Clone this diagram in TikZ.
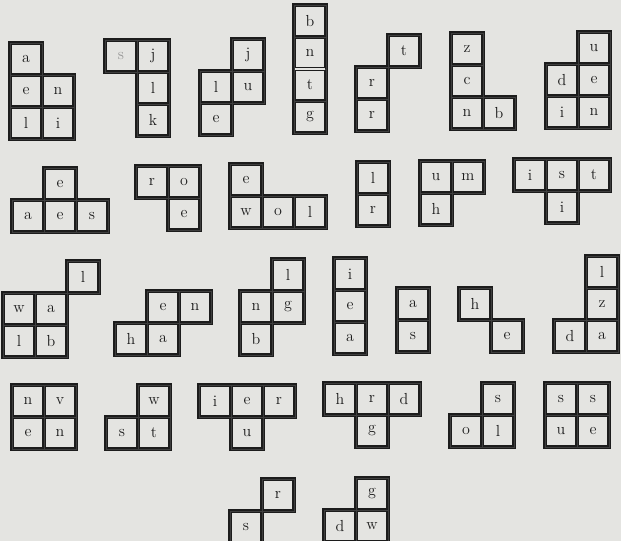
\documentclass[tikz,border=0pt]{standalone}
\definecolor{paper}{HTML}{E4E4E1}
\definecolor{ink}{HTML}{1C1C1C}
\tikzset{
  outerline/.style={draw=ink, line width=3pt},
  paperfill/.style={fill=paper},
  cellbox/.style={draw=ink!85, line width=0.5pt, minimum size=24pt, inner sep=0pt,
    font=\fontsize{12}{14}\selectfont, text=ink, anchor=center},
}
\newcommand\piece[4]{%
  \foreach \cc/\rr/\tx in {#4}{\draw[outerline] ({#2+\cc*32},{#3+\rr*32}) rectangle ++(32,32);}
  \foreach \cc/\rr/\tx in {#4}{\fill[paperfill] ({#2+\cc*32+2},{#3+\rr*32+2}) rectangle ++(28,28);}
  \foreach \cc/\rr/\tx in {#4}{\node[cellbox] (#1-\cc-\rr) at ({#2+\cc*32+16},{#3+\rr*32+16}) {\tx};}
}
\begin{document}
\begin{tikzpicture}[x=0.75pt,y=-0.75pt]
\useasboundingbox (0,0) rectangle (621,541);
\fill[paper] (0,0) rectangle (621,541);
\clip (0,0) rectangle (621,541);
% row 1
\piece{p1}{10}{43}{0/0/a,0/1/e,1/1/n,0/2/l,1/2/i}
\piece{p2}{105}{40}{0/0/{\textcolor{ink!45}{s}},1/0/j,1/1/l,1/2/k}
\piece{p3}{200}{39}{1/0/j,0/1/l,1/1/u,0/2/e}
\piece{p4}{294}{5}{0/0/b,0/1/n,0/2/t,0/3/g}
\fill[paperfill] (295,68.3) rectangle (325,69.7);
\piece{p5}{356}{35}{1/0/t,0/1/r,0/2/r}
\piece{p6}{451}{33}{0/0/z,0/1/c,0/2/n,1/2/b}
\piece{p7}{546}{32}{1/0/u,0/1/d,1/1/e,0/2/i,1/2/n}
% row 2
\piece{p8}{12}{168}{1/0/e,0/1/a,1/1/e,2/1/s}
\piece{p9}{136}{166}{0/0/r,1/0/o,1/1/e}
\piece{p10}{230}{164}{0/0/e,0/1/w,1/1/o,2/1/l}
\piece{p11}{357}{162}{0/0/l,0/1/r}
\piece{p12}{420}{161}{0/0/u,1/0/m,0/1/h}
\piece{p13}{514}{159}{0/0/i,1/0/s,2/0/t,1/1/i}
% row 3
\piece{p14}{3}{261}{2/0/l,0/1/w,1/1/a,0/2/l,1/2/b}
\piece{p15}{115}{291}{1/0/e,2/0/n,0/1/h,1/1/a}
\piece{p16}{240}{259}{1/0/l,0/1/n,1/1/g,0/2/b}
\piece{p17}{334}{258}{0/0/i,0/1/e,0/2/a}
\piece{p18}{397}{288}{0/0/a,0/1/s}
\piece{p19}{459}{288}{0/0/h,1/1/e}
\piece{p20}{554}{256}{1/0/l,1/1/z,0/2/d,1/2/a}
% row 4
\piece{p21}{12}{385}{0/0/n,1/0/v,0/1/e,1/1/n}
\piece{p22}{106}{385}{1/0/w,0/1/s,1/1/t}
\piece{p23}{199}{385}{0/0/i,1/0/e,2/0/r,1/1/u}
\piece{p24}{324}{383}{0/0/h,1/0/r,2/0/d,1/1/g}
\piece{p25}{450}{383}{1/0/s,0/1/o,1/1/l}
\piece{p26}{545}{383}{0/0/s,1/0/s,0/1/u,1/1/e}
% row 5
\piece{p27}{230}{479}{1/0/r,0/1/s}
\piece{p28}{324}{478}{1/0/g,0/1/d,1/1/w}
\end{tikzpicture}
\end{document}
